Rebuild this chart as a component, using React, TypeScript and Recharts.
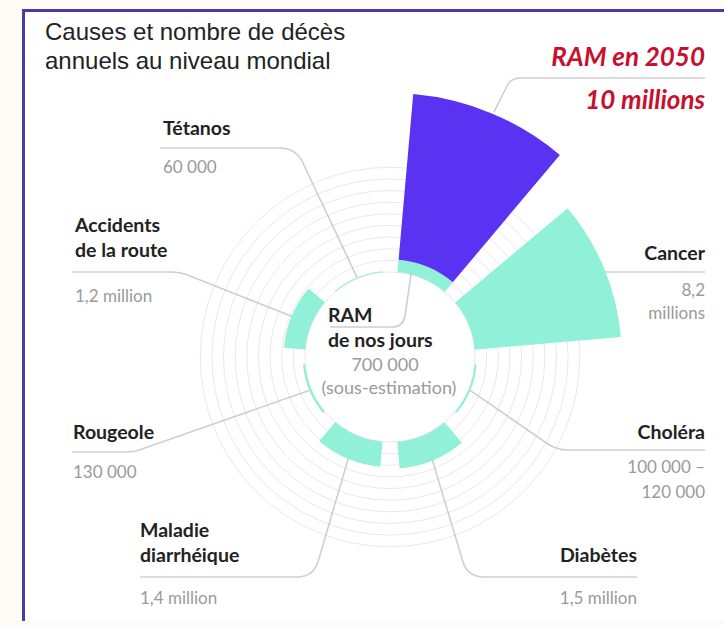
import React from 'react';
import { RadialBarChart, RadialBar, PolarAngleAxis, PolarRadiusAxis, PolarGrid } from 'recharts';

// ---- data (millions of deaths per year) ----
const causes = ['RAM', 'Cancer', 'Choléra', 'Diabètes', 'Maladie diarrhéique', 'Rougeole', 'Accidents de la route', 'Tétanos'];
const deathsToday = [0.7, 8.2, 0.11, 1.5, 1.4, 0.13, 1.2, 0.06];
const deaths2050: (number | null)[] = [10, null, null, null, null, null, null, null];
const ringTicks = [0, 0.65, 1.3, 1.95, 2.6, 3.25, 3.9, 4.55, 5.2, 5.85];
const radiusDomain: [number, number] = [0, 10];

const data = causes.map((name, i) => ({
  name,
  today: deathsToday[i],
  extra2050: deaths2050[i] != null ? (deaths2050[i] as number) - deathsToday[i] : 0,
}));

// ---- layout ----
const W = 724;
const H = 625;
const CX = 390;
const CY = 357;
const R_IN = 85;
const R_OUT = 264;
const SLOT = 360 / causes.length;

const rScale = (v: number) => R_IN + ((v - radiusDomain[0]) / (radiusDomain[1] - radiusDomain[0])) * (R_OUT - R_IN);
const pt = (compass: number, r: number) => {
  const a = (compass * Math.PI) / 180;
  return [CX + r * Math.sin(a), CY - r * Math.cos(a)];
};
const slotCenter = (i: number) => SLOT * i + SLOT / 2;

const TEAL = '#90f0d8';
const PURPLE = '#5a33f2';
const RED = '#c8102e';
const LINE = '#cfcfcf';
const GREY = '#9a9a9a';
const DARK = '#222222';

const boldFont = 'Lato, "Open Sans", sans-serif';

function leaders() {
  const [x0, y0] = pt(23, rScale(deaths2050[0] as number) + 2);
  const [x2, y2] = pt(slotCenter(2), R_IN + 1);
  const [x3, y3] = pt(slotCenter(3), rScale(deathsToday[3]) - 3);
  const [x4, y4] = pt(slotCenter(4), rScale(deathsToday[4]) - 3);
  const [x5, y5] = pt(slotCenter(5), R_IN + 1);
  const [x6, y6] = pt(slotCenter(6), rScale(deathsToday[6]) - 4);
  const [x7, y7] = pt(slotCenter(7), R_IN + 1);
  const [xr, yr] = pt(14, R_IN + 4);
  return [
    `M ${x0} ${y0} L 507 86 Q 511 78 520 78 L 705 78`,
    `M 560 272 L 705 272`,
    `M ${x2} ${y2} L 548 444 Q 557 450 568 450 L 705 450`,
    `M ${x3} ${y3} L 463 562 Q 468 577 484 577 L 637 577`,
    `M ${x4} ${y4} L 318 562 Q 313 577 297 577 L 140 577`,
    `M ${x5} ${y5} L 142 449 Q 135 452 126 452 L 72 452`,
    `M ${x6} ${y6} L 190 276 Q 181 272 170 272 L 72 272`,
    `M ${x7} ${y7} L 303 163 Q 296 148 280 148 L 160 148`,
    `M ${xr} ${yr} L 405 316 Q 403 327 392 327 L 330 327`,
  ];
}

export default function App() {
  const bold = { fontFamily: boldFont, fontWeight: 700, fontSize: 19.5, fill: DARK } as const;
  const val = { fontFamily: boldFont, fontWeight: 400, fontSize: 17, fill: GREY } as const;
  const valC = { ...val, fontSize: 18 } as const;
  const red = { fontFamily: boldFont, fontWeight: 700, fontStyle: 'italic', fontSize: 26, fill: RED } as const;
  const title = { fontFamily: '"Liberation Sans", Arial, sans-serif', fontSize: 24, fill: DARK } as const;
  return (
    <div style={{ position: 'absolute', left: 0, top: 0, width: W, height: H, background: '#fcfcf4', overflow: 'hidden' }}>
      <div
        style={{
          position: 'absolute',
          left: 22,
          top: 9,
          width: 720,
          height: 609,
          background: '#ffffff',
          borderLeft: '3px solid #4a3d9e',
          borderTop: '3px solid #4a3d9e',
        }}
      />
      <svg width={W} height={H} style={{ position: 'absolute', left: 0, top: 0 }}>
        {leaders().map((d, i) => (
          <path key={i} d={d} fill="none" stroke={LINE} strokeWidth={1.6} />
        ))}
      </svg>
      <div style={{ position: 'absolute', left: 0, top: 0 }}>
        <RadialBarChart
          width={W}
          height={H}
          data={data}
          layout="centric"
          cx={CX}
          cy={CY}
          innerRadius={R_IN}
          outerRadius={R_OUT}
          startAngle={45}
          endAngle={-315}
          barCategoryGap="11%"
          margin={{ top: 0, right: 0, bottom: 0, left: 0 }}
        >
          <PolarAngleAxis type="category" dataKey="name" tick={false} axisLine={false} tickLine={false} />
          <PolarRadiusAxis type="number" domain={radiusDomain} ticks={ringTicks} tick={false} axisLine={false} tickLine={false} />
          <RadialBar dataKey="today" stackId="a" fill={TEAL} isAnimationActive={false} />
          <RadialBar dataKey="extra2050" stackId="a" fill={PURPLE} isAnimationActive={false} />
          <PolarGrid gridType="circle" radialLines={false} stroke="#c9b8c0" strokeOpacity={0.35} />
        </RadialBarChart>
      </div>
      <svg width={W} height={H} style={{ position: 'absolute', left: 0, top: 0, pointerEvents: 'none' }}>
        <text x={45} y={40} style={title}>Causes et nombre de décès</text>
        <text x={45} y={69} style={title}>annuels au niveau mondial</text>
        <text x={705} y={66} textAnchor="end" style={red}>RAM en 2050</text>
        <text x={705} y={109} textAnchor="end" style={red}>10 millions</text>

        <text x={163} y={135} style={bold}>Tétanos</text>
        <text x={163} y={173} style={val}>60 000</text>

        <text x={75} y={232} style={bold}>Accidents</text>
        <text x={75} y={257} style={bold}>de la route</text>
        <text x={75} y={302} style={val}>1,2 million</text>

        <text x={73} y={439} style={bold}>Rougeole</text>
        <text x={73} y={478} style={val}>130 000</text>

        <text x={140} y={537} style={bold}>Maladie</text>
        <text x={140} y={562} style={bold}>diarrhéique</text>
        <text x={140} y={604} style={val}>1,4 million</text>

        <text x={637} y={562} textAnchor="end" style={bold}>Diabètes</text>
        <text x={637} y={604} textAnchor="end" style={val}>1,5 million</text>

        <text x={705} y={439} textAnchor="end" style={bold}>Choléra</text>
        <text x={705} y={473} textAnchor="end" style={val}>100 000 –</text>
        <text x={705} y={498} textAnchor="end" style={val}>120 000</text>

        <text x={705} y={260} textAnchor="end" style={bold}>Cancer</text>
        <text x={705} y={296} textAnchor="end" style={val}>8,2</text>
        <text x={705} y={319} textAnchor="end" style={val}>millions</text>

        <text x={328} y={322} style={bold}>RAM</text>
        <text x={328} y={347} style={bold}>de nos jours</text>
        <text x={385} y={371} textAnchor="middle" style={valC}>700 000</text>
        <text x={389} y={394} textAnchor="middle" style={valC}>(sous-estimation)</text>
      </svg>
    </div>
  );
}
